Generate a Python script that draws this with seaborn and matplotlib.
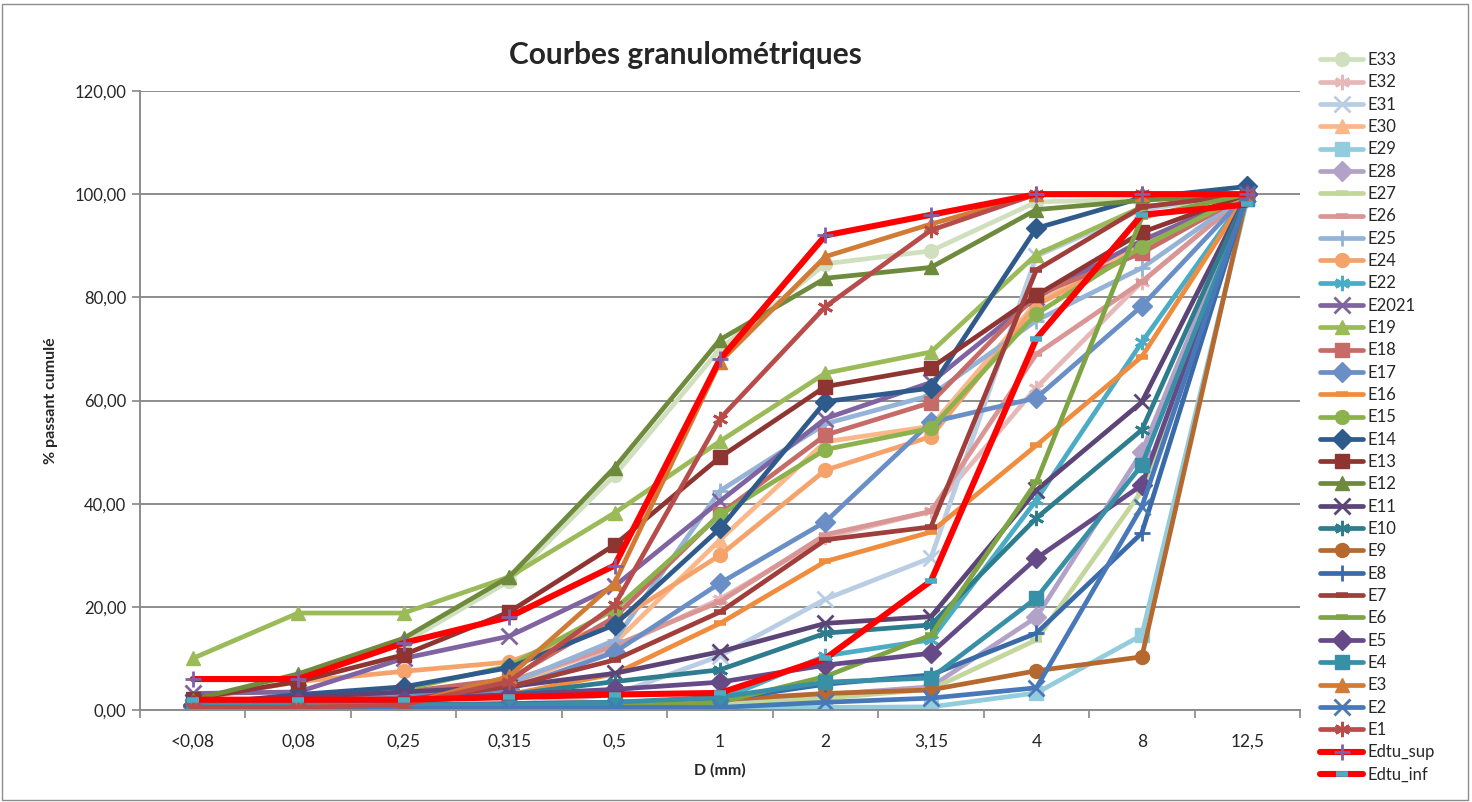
import numpy as np
import pandas as pd
import seaborn as sns
import matplotlib
matplotlib.use("Agg")
import matplotlib.pyplot as plt
from matplotlib.patches import Rectangle
from matplotlib.ticker import FuncFormatter, FixedLocator

# --- data (% passant cumulé per sieve) ---
sieves = ["<0,08", "0,08", "0,25", "0,315", "0,5", "1", "2", "3,15", "4", "8", "12,5"]

E33 = [2.0, 6.0, 13.0, 25.0, 45.5, 70.0, 86.5, 89.0, 98.5, 99.0, 100.0]
E32 = [0.5, 1.5, 3.0, 5.5, 12.0, 21.5, 33.5, 38.5, 62.5, 83.0, 100.0]
E31 = [0.0, 0.5, 0.5, 1.0, 3.0, 10.5, 21.5, 29.5, 88.0, 97.0, 100.0]
E30 = [0.5, 1.5, 2.5, 4.5, 13.0, 33.0, 52.0, 55.0, 79.0, 90.0, 100.0]
E29 = [0.0, 0.0, 0.0, 0.0, 0.2, 0.3, 0.5, 0.6, 3.3, 14.5, 99.0]
E28 = [0.5, 0.5, 0.5, 0.8, 1.0, 1.5, 3.0, 4.5, 18.0, 50.0, 100.0]
E27 = [0.3, 0.5, 0.5, 0.8, 1.0, 1.0, 2.3, 4.0, 13.6, 42.5, 100.0]
E26 = [0.5, 1.5, 3.0, 5.5, 12.5, 21.0, 34.0, 38.5, 69.0, 83.0, 100.0]
E25 = [1.0, 2.0, 3.0, 5.0, 13.5, 42.5, 55.5, 61.0, 75.5, 85.7, 100.0]
E24 = [2.0, 5.5, 7.5, 9.3, 17.0, 30.0, 46.5, 53.0, 78.5, 89.0, 100.0]
E22 = [0.5, 0.5, 0.7, 0.8, 1.0, 2.0, 10.5, 13.6, 40.7, 71.3, 100.0]
E2021 = [3.2, 3.5, 10.0, 14.3, 24.0, 40.5, 56.5, 63.5, 80.0, 91.0, 100.0]
E19 = [10.0, 18.8, 18.8, 25.8, 38.2, 52.1, 65.3, 69.4, 88.3, 97.5, 100.0]
E18 = [1.0, 2.0, 3.5, 6.0, 18.0, 38.0, 53.3, 59.6, 80.5, 88.6, 100.0]
E17 = [0.8, 1.5, 2.5, 4.0, 11.2, 24.6, 36.5, 55.8, 60.5, 78.3, 100.0]
E16 = [0.5, 0.8, 1.5, 3.0, 7.0, 16.8, 28.8, 34.5, 51.3, 68.5, 100.0]
E15 = [1.0, 2.0, 4.0, 8.5, 19.5, 37.8, 50.5, 54.6, 76.8, 89.8, 100.0]
E14 = [1.0, 3.0, 4.5, 8.2, 16.5, 35.2, 59.8, 62.4, 93.4, 99.3, 101.5]
E13 = [2.2, 5.5, 10.7, 19.0, 32.0, 49.0, 62.7, 66.3, 80.4, 92.6, 100.0]
E12 = [2.0, 7.0, 13.9, 25.8, 47.0, 71.8, 83.7, 85.8, 97.0, 98.8, 100.0]
E11 = [1.5, 2.5, 3.5, 4.5, 7.1, 11.3, 16.8, 18.1, 42.6, 59.7, 100.0]
E10 = [1.0, 1.5, 2.0, 3.0, 5.5, 7.8, 14.9, 16.5, 37.2, 54.3, 100.0]
E9 = [0.5, 0.5, 1.0, 1.2, 1.5, 2.0, 3.2, 3.9, 7.6, 10.3, 100.0]
E8 = [0.5, 1.0, 1.0, 1.2, 1.5, 2.0, 5.0, 6.8, 14.9, 34.3, 100.0]
E7 = [0.5, 1.0, 2.0, 4.5, 9.7, 19.0, 33.0, 35.5, 85.3, 97.5, 100.0]
E6 = [0.3, 0.5, 0.5, 0.5, 0.8, 1.5, 6.5, 14.5, 44.2, 95.5, 100.0]
E5 = [1.0, 1.5, 2.0, 3.0, 4.0, 5.4, 8.7, 11.0, 29.4, 43.6, 100.0]
E4 = [1.0, 1.0, 1.0, 1.0, 1.5, 2.5, 5.4, 6.2, 21.7, 47.5, 99.0]
E3 = [0.3, 0.5, 1.0, 6.5, 24.6, 67.5, 87.9, 94.2, 100.0, 100.0, 100.0]
E2 = [0.0, 0.2, 0.3, 0.3, 0.5, 0.5, 1.5, 2.3, 4.3, 39.4, 100.0]
E1 = [0.5, 0.5, 1.0, 5.5, 20.3, 56.5, 78.2, 93.0, 100.0, 100.0, 100.0]
Edtu_sup = [6.0, 6.0, 13.0, 18.0, 28.0, 68.0, 92.0, 96.0, 100.0, 100.0, 100.0]
Edtu_inf = [2.0, 2.0, 2.0, 2.5, 3.0, 3.3, 10.0, 25.0, 72.0, 96.0, 98.0]

# name, values, line colour, marker, marker colour
AST = (6, 2, 0)
series = [
    ("E33", E33, "#D0DFBE", "o", None),
    ("E32", E32, "#E6B9B8", AST, None),
    ("E31", E31, "#B9CDE5", "x", None),
    ("E30", E30, "#FAB88A", "^", None),
    ("E29", E29, "#93CDDD", "s", None),
    ("E28", E28, "#B3A2C7", "D", None),
    ("E27", E27, "#C3D69B", "_", None),
    ("E26", E26, "#D99694", "_", None),
    ("E25", E25, "#95B3D7", "+", None),
    ("E24", E24, "#F5A36B", "o", None),
    ("E22", E22, "#4BACC6", AST, None),
    ("E2021", E2021, "#8064A2", "x", None),
    ("E19", E19, "#9BBB59", "^", None),
    ("E18", E18, "#C76B69", "s", None),
    ("E17", E17, "#6A8FC7", "D", None),
    ("E16", E16, "#F08C3E", "_", None),
    ("E15", E15, "#8CB24E", "o", None),
    ("E14", E14, "#2F5B8C", "D", None),
    ("E13", E13, "#8E3532", "s", None),
    ("E12", E12, "#6E8B3D", "^", None),
    ("E11", E11, "#5C4477", "x", None),
    ("E10", E10, "#2E7D8F", AST, None),
    ("E9", E9, "#B5692F", "o", None),
    ("E8", E8, "#3A6BA8", "+", None),
    ("E7", E7, "#A03E3B", "_", None),
    ("E6", E6, "#7EA444", "_", None),
    ("E5", E5, "#664A88", "D", None),
    ("E4", E4, "#3890A6", "s", None),
    ("E3", E3, "#D27B35", "^", None),
    ("E2", E2, "#4878B8", "x", None),
    ("E1", E1, "#B84C4A", AST, None),
    ("Edtu_sup", Edtu_sup, "#FF0000", "+", "#7F60A8"),
    ("Edtu_inf", Edtu_inf, "#FF0000", "_", "#4BACC6"),
]

sns.set_style("white")
plt.rcParams['font.family'] = ['Lato', 'DejaVu Sans']

fig = plt.figure(figsize=(14.72, 8.02), dpi=100)
ax = fig.add_axes([140 / 1472, 1 - 710 / 802, 1160 / 1472, 619 / 802])

xpos = np.arange(len(sieves))
for name, vals, col, mk, mcol in series:
    mcol = mcol or col
    big = name.startswith("Edtu")
    if mk in ("x", "+") or mk == AST:
        ms, mew = 11, 2.0
    elif mk == "_":
        ms, mew = 8, 4.0
    else:
        ms, mew = 10, 1.0
    sns.lineplot(x=xpos, y=vals, ax=ax, color=col, linewidth=4.4 if big else 3.4,
                 marker=mk, markersize=ms, markerfacecolor=mcol,
                 markeredgecolor=mcol, markeredgewidth=mew,
                 label=name, legend=False, sort=False)

ax.set_xlim(-0.5, len(sieves) - 0.5)
ax.set_ylim(0, 120)
ax.set_yticks(np.arange(0, 121, 20))
ax.yaxis.set_major_formatter(FuncFormatter(lambda v, p: f"{v:.2f}".replace(".", ",")))
ax.set_xticks(xpos)
ax.set_xticklabels(sieves)
ax.xaxis.set_minor_locator(FixedLocator(np.arange(-0.5, len(sieves), 1.0)))
ax.tick_params(axis="x", which="major", length=0, pad=17, labelsize=12.5)
ax.tick_params(axis="x", which="minor", length=6, width=1.2, color="#888888", direction="out", bottom=True)
ax.tick_params(axis="y", length=6, width=1.2, color="#888888", direction="out", left=True, labelsize=12, pad=4)

ax.grid(axis="y", color="#8C8C8C", linewidth=1.4)
ax.set_axisbelow(True)
for side in ("top", "right"):
    ax.spines[side].set_visible(False)
for side in ("left", "bottom"):
    ax.spines[side].set_color("#8C8C8C")
    ax.spines[side].set_linewidth(1.4)

ax.set_xlabel("D (mm)", fontsize=11.5, fontweight="bold", labelpad=10)
ax.set_ylabel("% passant cumulé", fontsize=11.5, fontweight="bold", labelpad=12)
fig.text(685 / 1472, 1 - 55 / 802, "Courbes granulométriques", fontsize=21.5,
         fontweight="bold", ha="center", va="center")

handles, labels = ax.get_legend_handles_labels()
fig.legend(handles, labels, loc="upper left", bbox_to_anchor=(1320 / 1472, 1 - 52 / 802),
           frameon=False, fontsize=12, handlelength=2.6, handletextpad=0.25,
           labelspacing=0.38, borderaxespad=0, borderpad=0)

fig.patches.append(Rectangle((2 / 1472, 2 / 802), 1466 / 1472, 796 / 802, transform=fig.transFigure,
                             fill=False, edgecolor="#8C8C8C", linewidth=1))

fig.savefig("out.png", dpi=100)
